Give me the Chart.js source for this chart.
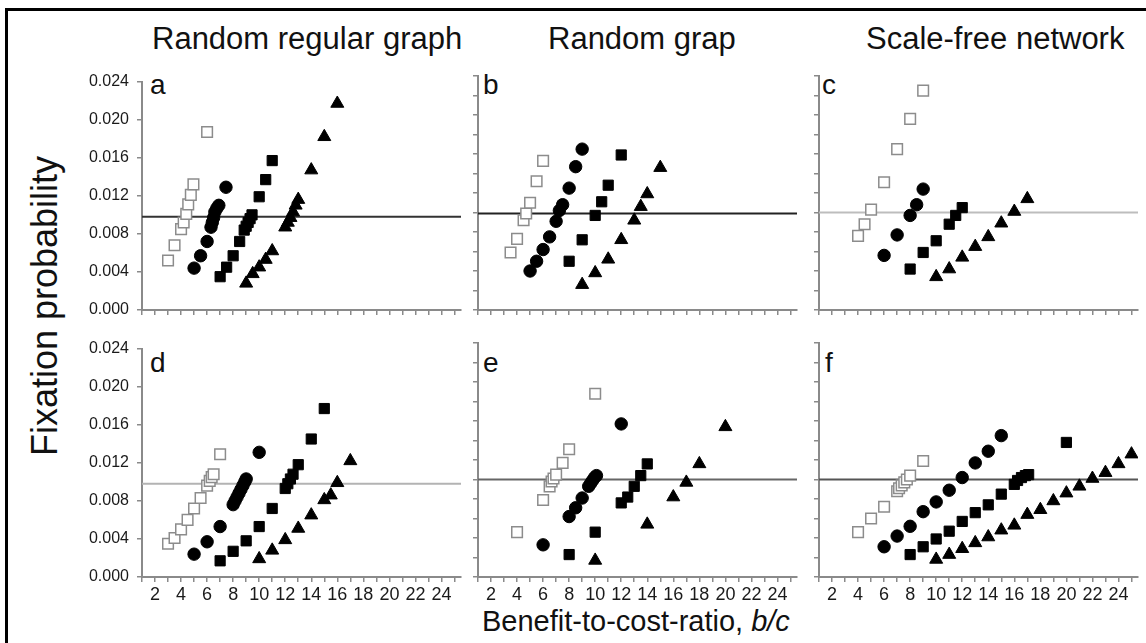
<!DOCTYPE html>
<html>
<head>
<meta charset="utf-8">
<script src="https://cdn.jsdelivr.net/npm/chart.js@4.4.1/dist/chart.umd.min.js"></script>
<style>
  body { margin: 0; width: 1146px; height: 643px; overflow: hidden; background: #fff; position: relative;
         font-family: "Liberation Sans", Arial, sans-serif; color: #111; }
  #frame { position: absolute; left: 5px; top: 8px; width: 1200px; height: 700px;
           border-left: 3px solid #000; border-top: 3px solid #000; }
  canvas { position: absolute; }
  .txt { position: absolute; white-space: nowrap; line-height: 1; }
  .letter { font-size: 28px; }
  .colTitle { font-size: 31px; }
</style>
</head>
<body>
<div id="frame"></div>

<div class="txt colTitle" id="t0" style="left:152px; top:23px;"></div>
<div class="txt colTitle" id="t1" style="left:548px; top:23px;"></div>
<div class="txt colTitle" id="t2" style="left:866px; top:23px;"></div>

<div class="txt" id="ytitle" style="left:45px; top:306px; font-size:36px; transform: translate(-50%,-50%) rotate(-90deg);">Fixation probability</div>
<div class="txt" id="xtitle" style="left:482px; top:607px; font-size:29px;">Benefit-to-cost-ratio, <i>b/c</i></div>

<div class="txt letter" style="left:150px; top:71px;">a</div>
<div class="txt letter" style="left:483px; top:71px;">b</div>
<div class="txt letter" style="left:822px; top:71px;">c</div>
<div class="txt letter" style="left:150px; top:349px;">d</div>
<div class="txt letter" style="left:483px; top:349px;">e</div>
<div class="txt letter" style="left:825px; top:349px;">f</div>

<canvas id="pa"></canvas>
<canvas id="pb"></canvas>
<canvas id="pc"></canvas>
<canvas id="pd"></canvas>
<canvas id="pe"></canvas>
<canvas id="pf"></canvas>

<script>
// column headers and axis ticks
const columnTitles = ["Random regular graph", "Random grap", "Scale-free network"];
const xTickLabels = [2, 4, 6, 8, 10, 12, 14, 16, 18, 20, 22, 24];
const yTickLabels = ["0.000", "0.004", "0.008", "0.012", "0.016", "0.020", "0.024"];

// neutral fixation level (1/N) drawn as the horizontal line, per panel a..f
const neutral = [0.0098, 0.0099, 0.0100, 0.0098, 0.0100, 0.0100];

// [b/c, fixation probability] -- open squares, circles, squares, triangles
const aOpen = [[3, 0.0052], [3.5, 0.0068], [4, 0.0085], [4.2, 0.0092], [4.4, 0.0101], [4.55, 0.0111], [4.75, 0.0121], [4.95, 0.0132], [6, 0.0187]];
const aCircle = [[5, 0.0044], [5.5, 0.0057], [6, 0.0072], [6.3, 0.0087], [6.4, 0.0092], [6.5, 0.0097], [6.6, 0.0103], [6.75, 0.0107], [6.9, 0.0110], [7.45, 0.0129]];
const aSquare = [[7, 0.0035], [7.5, 0.0045], [8, 0.0057], [8.5, 0.0072], [8.85, 0.0084], [9, 0.0088], [9.15, 0.0092], [9.3, 0.0096], [9.45, 0.0100], [10, 0.0119], [10.5, 0.0137], [11, 0.0157]];
const aTriangle = [[9, 0.0028], [9.5, 0.0038], [10, 0.0045], [10.5, 0.0053], [11, 0.0062], [12, 0.0087], [12.2, 0.0092], [12.4, 0.0097], [12.6, 0.0103], [12.8, 0.0110], [13, 0.0116], [14, 0.0147], [15, 0.0182], [16, 0.0217]];

const bOpen = [[3.5, 0.0059], [4, 0.0073], [4.5, 0.0092], [4.7, 0.0099], [5, 0.0110], [5.5, 0.0132], [6, 0.0153]];
const bCircle = [[5, 0.0040], [5.5, 0.0050], [6, 0.0062], [6.5, 0.0075], [7, 0.0091], [7.25, 0.0102], [7.5, 0.0108], [8, 0.0125], [8.5, 0.0147], [9, 0.0165]];
const bSquare = [[8, 0.0050], [9, 0.0072], [10, 0.0097], [10.5, 0.0111], [11, 0.0128], [12, 0.0159]];
const bTriangle = [[9, 0.0026], [10, 0.0038], [11, 0.0052], [12, 0.0072], [13, 0.0092], [13.5, 0.0106], [14, 0.0119], [15, 0.0146]];

const cOpen = [[4, 0.0076], [4.5, 0.0088], [5, 0.0103], [6, 0.0131], [7, 0.0165], [8, 0.0196], [9, 0.0225]];
const cCircle = [[6, 0.0056], [7, 0.0077], [8, 0.0097], [8.5, 0.0108], [9, 0.0124]];
const cSquare = [[8, 0.0042], [9, 0.0059], [10, 0.0071], [11, 0.0088], [11.5, 0.0097], [12, 0.0105]];
const cTriangle = [[10, 0.0034], [11, 0.0042], [12, 0.0054], [13, 0.0065], [14, 0.0075], [15, 0.0089], [16, 0.0101], [17, 0.0114]];

const dOpen = [[3, 0.0035], [3.5, 0.0041], [4, 0.0050], [4.5, 0.0060], [5, 0.0072], [5.5, 0.0083], [6, 0.0096], [6.2, 0.0101], [6.35, 0.0105], [6.5, 0.0108], [7, 0.0129]];
const dCircle = [[5, 0.0024], [6, 0.0037], [7, 0.0053], [8, 0.0076], [8.15, 0.0080], [8.3, 0.0084], [8.45, 0.0088], [8.6, 0.0092], [8.75, 0.0096], [8.9, 0.0100], [9, 0.0103], [10, 0.0131]];
const dSquare = [[7, 0.0017], [8, 0.0027], [9, 0.0038], [10, 0.0053], [11, 0.0072], [12, 0.0093], [12.2, 0.0098], [12.4, 0.0103], [12.6, 0.0108], [13, 0.0118], [14, 0.0145], [15, 0.0177]];
const dTriangle = [[10, 0.0019], [11, 0.0028], [12, 0.0039], [13, 0.0051], [14, 0.0065], [15, 0.0081], [15.5, 0.0086], [16, 0.0099], [17, 0.0122]];

const eOpen = [[4, 0.0046], [6, 0.0079], [6.5, 0.0093], [6.65, 0.0098], [6.8, 0.0101], [7, 0.0105], [7.5, 0.0117], [8, 0.0131], [10, 0.0188]];
const eCircle = [[6, 0.0033], [8, 0.0062], [8.5, 0.0071], [9, 0.0081], [9.5, 0.0093], [9.65, 0.0096], [9.8, 0.0099], [9.95, 0.0102], [10.1, 0.0104], [12, 0.0157]];
const eSquare = [[8, 0.0023], [10, 0.0046], [12, 0.0076], [12.5, 0.0082], [13, 0.0093], [13.5, 0.0104], [14, 0.0116]];
const eTriangle = [[10, 0.0017], [14, 0.0054], [16, 0.0082], [17, 0.0097], [18, 0.0116], [20, 0.0154]];

const fOpen = [[4, 0.0046], [5, 0.0060], [6, 0.0072], [7, 0.0088], [7.15, 0.0091], [7.35, 0.0094], [7.55, 0.0097], [7.75, 0.0100], [8, 0.0104], [9, 0.0119]];
const fCircle = [[6, 0.0031], [7, 0.0042], [8, 0.0052], [9, 0.0067], [10, 0.0077], [11, 0.0089], [12, 0.0102], [13, 0.0117], [14, 0.0129], [15, 0.0145]];
const fSquare = [[8, 0.0023], [9, 0.0031], [10, 0.0039], [11, 0.0047], [12, 0.0057], [13, 0.0066], [14, 0.0074], [15, 0.0085], [16, 0.0095], [16.25, 0.0099], [16.55, 0.0102], [16.85, 0.0104], [17.1, 0.0105], [20, 0.0138]];
const fTriangle = [[10, 0.0018], [11, 0.0023], [12, 0.0029], [13, 0.0035], [14, 0.0041], [15, 0.0048], [16, 0.0053], [17, 0.0064], [18, 0.0069], [19, 0.0078], [20, 0.0086], [21, 0.0093], [22, 0.0101], [23, 0.0107], [24, 0.0116], [25, 0.0126]];

columnTitles.forEach((t, i) => { document.getElementById("t" + i).textContent = t; });

const X_MIN = 1, X_MAX = 25.5;
const PLOT_W = 320, PLOT_H = 234;
const PAD_TOP = 12, PAD_RIGHT = 8;

const toXY = (arr) => arr.map(([x, y]) => ({ x, y }));

function makePanel(id, left, top, showYLabels, showXLabels, series, level, lineColor) {
    const yW = showYLabels ? 90 : 14;
    const xH = showXLabels ? 40 : 20;
    const cv = document.getElementById(id);
    cv.width = yW + PLOT_W + PAD_RIGHT;
    cv.height = PAD_TOP + PLOT_H + xH;
    cv.style.left = (left - yW) + "px";
    cv.style.top = (top - PAD_TOP) + "px";

    const [open, circ, sq, tri] = series;
    new Chart(cv, {
        type: "scatter",
        data: {
            datasets: [
                { type: "line", data: [{ x: X_MIN, y: level }, { x: X_MAX, y: level }],
                  borderColor: lineColor, borderWidth: 2, pointRadius: 0, order: 10 },
                { data: toXY(open), pointStyle: "rect", pointRadius: 7.5, backgroundColor: "#fff",
                  borderColor: "#8c8c8c", borderWidth: 1.5, order: 1 },
                { data: toXY(circ), pointStyle: "circle", pointRadius: 6.2, backgroundColor: "#000",
                  borderColor: "#000", borderWidth: 1, order: 1 },
                { data: toXY(sq), pointStyle: "rect", pointRadius: 7.2, backgroundColor: "#000",
                  borderColor: "#000", borderWidth: 1, order: 1 },
                { data: toXY(tri), pointStyle: "triangle", pointRadius: 7.5, backgroundColor: "#000",
                  borderColor: "#000", borderWidth: 1, order: 1 },
            ],
        },
        options: {
            responsive: false,
            animation: false,
            devicePixelRatio: 1,
            layout: { padding: { top: PAD_TOP, right: PAD_RIGHT, left: 0, bottom: 0 } },
            plugins: { legend: { display: false }, tooltip: { enabled: false } },
            scales: {
                x: {
                    type: "linear", min: X_MIN, max: X_MAX,
                    afterFit: (s) => { s.height = xH; },
                    grid: { drawOnChartArea: false, drawTicks: true, tickLength: 5, color: "#8a8a8a", lineWidth: 1.5 },
                    border: { display: true, color: "#8a8a8a", width: 2 },
                    ticks: {
                        stepSize: 1, includeBounds: false, autoSkip: false, maxRotation: 0,
                        display: showXLabels, padding: 2, color: "#1a1a1a",
                        font: { family: "Liberation Sans, Arial, sans-serif", size: 18 },
                        callback: (v) => (xTickLabels.includes(v) ? String(v) : ""),
                    },
                },
                y: {
                    type: "linear", min: 0, max: 0.024,
                    afterFit: (s) => { s.width = yW; },
                    grid: { drawOnChartArea: false, drawTicks: true, tickLength: 5, color: "#8a8a8a", lineWidth: 1.5 },
                    border: { display: true, color: "#8a8a8a", width: 2 },
                    ticks: {
                        stepSize: 0.002, display: showYLabels, padding: 8, color: "#1a1a1a",
                        font: { family: "Liberation Sans, Arial, sans-serif", size: 16 },
                        callback: (v) => {
                            const lbl = v.toFixed(3);
                            return yTickLabels.includes(lbl) ? lbl : "";
                        },
                    },
                },
            },
        },
    });
}

makePanel("pa", 142, 76, true, false, [aOpen, aCircle, aSquare, aTriangle], neutral[0], "#333");
makePanel("pb", 478, 76, false, false, [bOpen, bCircle, bSquare, bTriangle], neutral[1], "#222");
makePanel("pc", 819, 76, false, false, [cOpen, cCircle, cSquare, cTriangle], neutral[2], "#bdbdbd");
makePanel("pd", 142, 343, true, true, [dOpen, dCircle, dSquare, dTriangle], neutral[3], "#b3b3b3");
makePanel("pe", 478, 343, false, true, [eOpen, eCircle, eSquare, eTriangle], neutral[4], "#666");
makePanel("pf", 819, 343, false, true, [fOpen, fCircle, fSquare, fTriangle], neutral[5], "#555");
</script>
</body>
</html>
